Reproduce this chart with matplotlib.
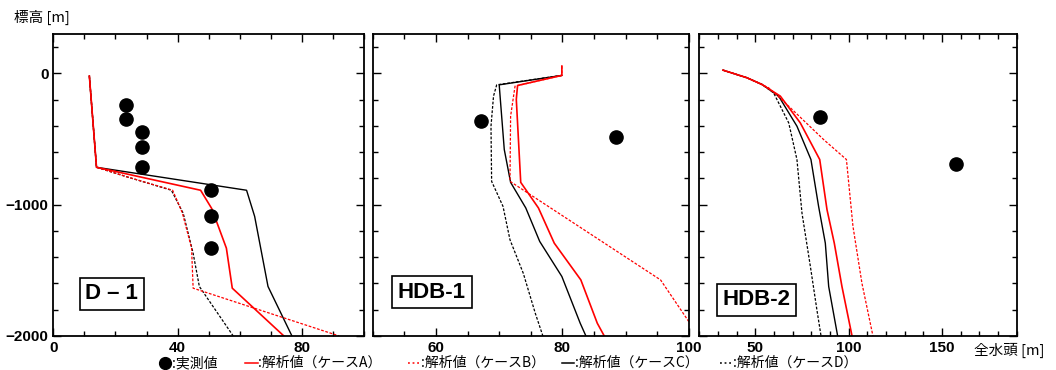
import matplotlib
matplotlib.use("Agg")
import matplotlib.pyplot as plt
from matplotlib.lines import Line2D
from matplotlib.ticker import MultipleLocator, FixedLocator

plt.rcParams['font.family'] = ['Liberation Sans', 'Noto Sans CJK JP', 'DejaVu Sans']
plt.rcParams['axes.unicode_minus'] = False

# elevation [m] / total head [m] per borehole
d1_obs_h = [23.4, 23.4, 28.6, 28.6, 28.6, 50.7, 50.7, 50.7]
d1_obs_z = [-244, -344, -443, -562, -715, -890, -1089, -1333]
d1_a_h = [11.6, 13.9, 47.4, 51.0, 55.7, 57.6, 74.2]
d1_a_z = [-20, -715, -890, -1030, -1331, -1636, -2000]
d1_b_h = [11.6, 13.9, 24.0, 38.4, 41.5, 44.5, 45.0, 92.0]
d1_b_z = [-20, -715, -790, -890, -1060, -1331, -1636, -2000]
d1_c_h = [11.6, 13.9, 62.2, 64.8, 69.1, 76.8]
d1_c_z = [-20, -715, -890, -1089, -1623, -2000]
d1_d_h = [11.6, 13.9, 24.0, 38.0, 41.8, 45.0, 47.0, 57.9]
d1_d_z = [-20, -715, -790, -890, -1065, -1370, -1623, -2000]

h1_obs_h = [67.1, 88.5]
h1_obs_z = [-359, -483]
h1_a_h = [79.9, 79.9, 72.9, 72.7, 73.4, 76.2, 78.7, 82.9, 85.5, 86.6]
h1_a_z = [56, -15, -92, -198, -830, -1025, -1293, -1573, -1903, -2000]
h1_b_h = [79.9, 79.9, 72.5, 71.8, 71.7, 95.5, 101.5]
h1_b_z = [56, -15, -97, -326, -822, -1573, -2000]
h1_c_h = [79.9, 70.0, 70.1, 70.8, 71.8, 74.2, 76.4, 79.9, 82.8, 83.7]
h1_c_z = [-15, -87, -150, -580, -830, -1025, -1280, -1547, -1903, -2000]
h1_d_h = [79.9, 69.6, 69.1, 68.7, 68.8, 70.6, 71.7, 73.8, 75.7, 76.9]
h1_d_z = [-15, -87, -173, -402, -822, -1013, -1267, -1522, -1827, -2000]

h2_obs_h = [84.8, 157.5]
h2_obs_z = [-331, -692]
h2_a_h = [32.7, 45.5, 53.6, 63.4, 74.1, 84.5, 88.4, 92.3, 96.4, 101.8]
h2_a_z = [25, -33, -84, -173, -377, -656, -1038, -1293, -1623, -2000]
h2_b_h = [32.7, 45.5, 57.1, 68.8, 86.6, 98.8, 102.3, 107.1, 113.0]
h2_b_z = [25, -33, -109, -262, -504, -656, -1165, -1598, -2000]
h2_c_h = [32.7, 45.5, 53.6, 62.5, 72.3, 79.8, 83.9, 87.5, 89.3, 94.1]
h2_c_z = [25, -33, -84, -173, -402, -656, -1013, -1293, -1623, -2000]
h2_d_h = [32.7, 45.5, 53.6, 59.8, 67.9, 72.3, 75.0, 79.5, 83.0, 85.2]
h2_d_z = [25, -33, -84, -148, -377, -656, -1064, -1471, -1802, -2000]

panels = [
    ("D – 1", (0, 100), [0, 40, 80], 10,
     (d1_obs_h, d1_obs_z), d1_a_h, d1_a_z, d1_b_h, d1_b_z, d1_c_h, d1_c_z, d1_d_h, d1_d_z),
    ("HDB-1", (50, 100), [60, 80, 100], 5,
     (h1_obs_h, h1_obs_z), h1_a_h, h1_a_z, h1_b_h, h1_b_z, h1_c_h, h1_c_z, h1_d_h, h1_d_z),
    ("HDB-2", (20, 190), [50, 100, 150], 10,
     (h2_obs_h, h2_obs_z), h2_a_h, h2_a_z, h2_b_h, h2_b_z, h2_c_h, h2_c_z, h2_d_h, h2_d_z),
]
boxes = [(0.103, 0.139), (0.08, 0.145), (0.072, 0.12)]

fig = plt.figure(figsize=(10.56, 3.70), dpi=100)
rects = [[0.0505, 0.092, 0.2942, 0.816],
         [0.3529, 0.092, 0.2996, 0.816],
         [0.6622, 0.092, 0.3006, 0.816]]

dash = (0, (2.2, 1.3))
for i, p in enumerate(panels):
    name, xl, xt, minor, obs, ah, az, bh, bz, ch, cz, dh, dz = p
    ax = fig.add_axes(rects[i])
    ax.plot(dh, dz, color='black', lw=0.9, ls=dash)
    ax.plot(ch, cz, color='black', lw=1.0)
    ax.plot(bh, bz, color='red', lw=0.9, ls=dash)
    ax.plot(ah, az, color='red', lw=1.2)
    ax.plot(obs[0], obs[1], 'o', color='black', ms=9.5)
    ax.set_xlim(*xl)
    ax.set_ylim(-2000, 300)
    ax.xaxis.set_major_locator(FixedLocator(xt))
    ax.xaxis.set_minor_locator(MultipleLocator(minor))
    ax.yaxis.set_major_locator(FixedLocator([0, -1000, -2000]))
    ax.yaxis.set_minor_locator(MultipleLocator(200))
    ax.tick_params(which='both', direction='in', top=True, right=True, width=1.0,
                   labelsize=11)
    ax.tick_params(which='major', length=6)
    ax.tick_params(which='minor', length=3.5)
    if i > 0:
        ax.set_yticklabels([])
    else:
        ax.set_yticklabels(['0', '−1000', '−2000'])
    for lab in ax.get_xticklabels() + ax.get_yticklabels():
        lab.set_fontweight('bold')
    for s in ax.spines.values():
        s.set_linewidth(1.3)
    ax.text(boxes[i][0], boxes[i][1], name, transform=ax.transAxes, fontsize=16,
            fontweight='bold', va='center', ha='left',
            family=['Liberation Sans', 'Noto Sans CJK JP'],
            bbox=dict(boxstyle='square,pad=0.25', fc='white', ec='black', lw=1.2))

jp = ['Noto Sans CJK JP', 'DejaVu Sans']
fig.text(0.013, 0.94, "標高 [m]", fontsize=10.5, family=jp)
fig.text(0.922, 0.04, "全水頭 [m]", fontsize=10.5, family=jp)

# legend row along the bottom
leg_y = 0.019
fig.add_artist(Line2D([0.1565], [leg_y], marker='o', color='black', ms=8.5,
                      transform=fig.transFigure))
fig.text(0.1625, leg_y, ":実測値", fontsize=10, family=jp, va='center')
items = [(0.232, 'red', '-', ":解析値（ケースA）"),
         (0.386, 'red', ':', ":解析値（ケースB）"),
         (0.532, 'black', '-', ":解析値（ケースC）"),
         (0.682, 'black', ':', ":解析値（ケースD）")]
for x, col, ls, lab in items:
    fig.add_artist(Line2D([x, x + 0.012], [leg_y, leg_y], color=col, lw=1.1,
                          ls=ls if ls == '-' else (0, (1.2, 1.8)),
                          transform=fig.transFigure))
    fig.text(x + 0.0125, leg_y, lab, color='black', fontsize=10, family=jp, va='center')

fig.savefig("out.png", dpi=100)
